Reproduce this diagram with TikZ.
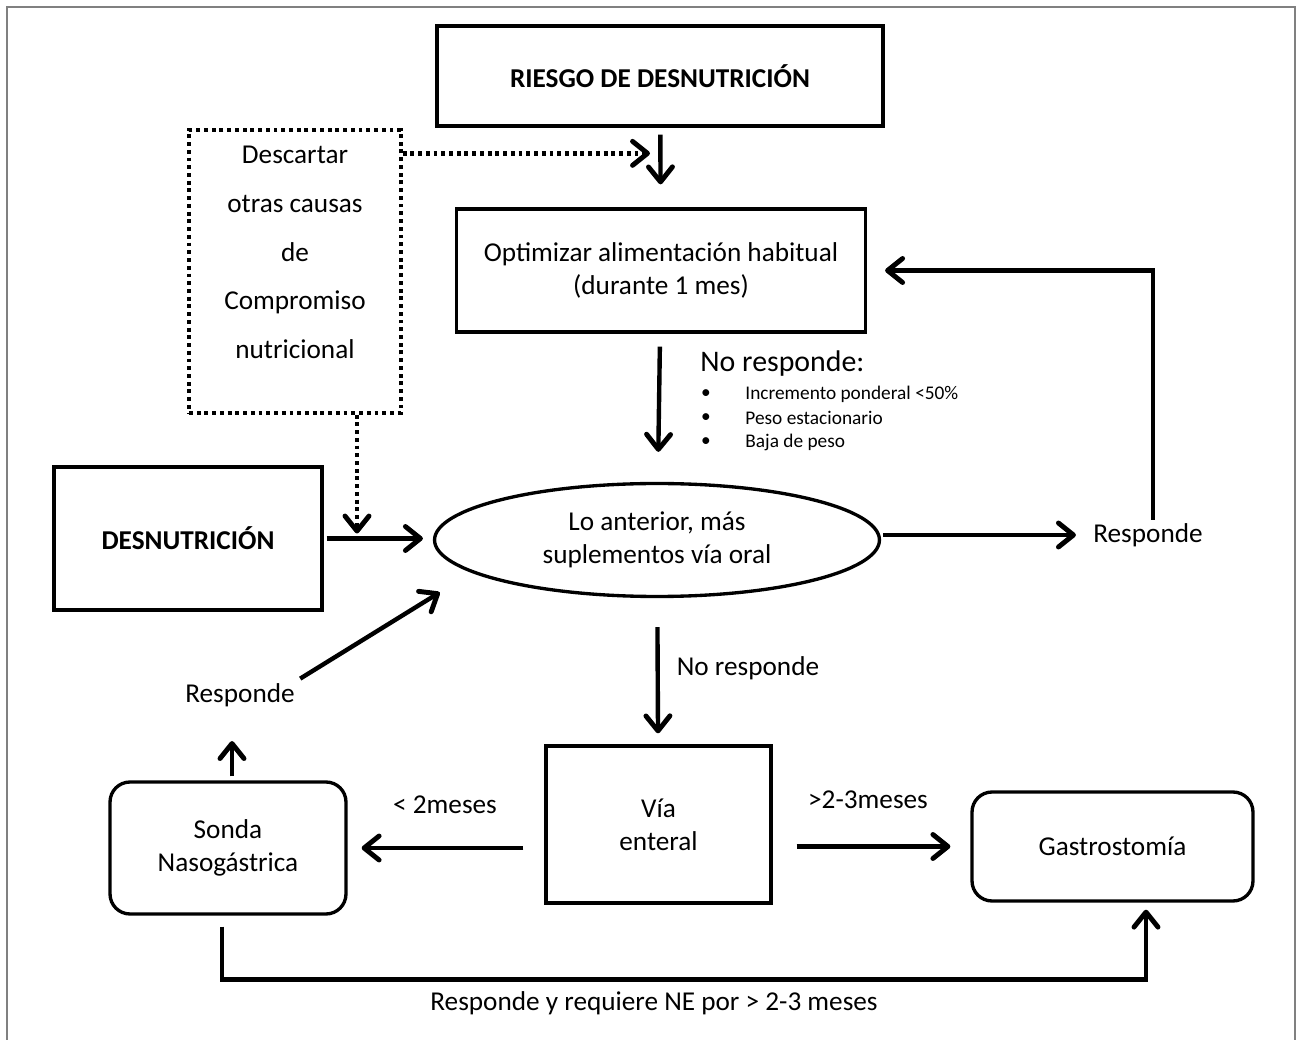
\documentclass[tikz,border=0pt]{standalone}
\usepackage{fontspec}
\setmainfont{Carlito}
\usetikzlibrary{arrows.meta,shapes.geometric}
\newcommand{\mainfnt}{\fontsize{15.5}{18.7}\selectfont}
\newcommand{\bigfnt}{\fontsize{17}{20}\selectfont}
\newcommand{\smallfnt}{\fontsize{11}{13}\selectfont}

\begin{document}
\begin{tikzpicture}[x=0.02cm, y=-0.02cm, line width=1.9pt, >={Straight Barb[length=3mm, width=4.8mm, line width=2.8pt, round]},
    every node/.style={font=\mainfnt},
    box/.style={draw, rectangle, align=center, inner sep=0pt},
    rbox/.style={box, rounded corners=0.4cm},
    lbl/.style={inner sep=1pt},
    arr/.style={->, line width=2.5pt}]
    \useasboundingbox (0,0) rectangle (1296,1040);
    % marco
    \draw[line width=1.1pt, color=gray] (7,1040) -- (7,7) -- (1295,7) -- (1295,1040);

    % cajas
    \node[box, minimum width=8.92cm, minimum height=2cm, font=\mainfnt\bfseries] (riesgo) at (660,76) {RIESGO DE DESNUTRICIÓN};
    \node[box, minimum width=4.24cm, minimum height=5.66cm, dash pattern=on 2.2pt off 2.2pt, font=\fontsize{15.5}{27.8}\selectfont] (dbox) at (295,271.5)
      {Descartar\\otras causas\\de\\Compromiso\\nutricional\\[-6pt]\mbox{}};
    \node[box, minimum width=8.18cm, minimum height=2.46cm] (opt) at (661,270.5) {Optimizar alimentación habitual\\(durante 1 mes)};
    \node[box, ellipse, minimum width=8.9cm, minimum height=2.26cm] (ellipse) at (657,540) {Lo anterior, más\\suplementos vía oral};
    \node[box, minimum width=5.36cm, minimum height=2.86cm, font=\mainfnt\bfseries] (desnut) at (188,538.5) {DESNUTRICIÓN};
    \node[box, minimum width=4.5cm, minimum height=3.14cm] (via) at (658.5,824.5) {Vía\\enteral};
    \node[rbox, minimum width=4.72cm, minimum height=2.64cm] (sonda) at (228,848) {Sonda\\Nasogástrica};
    \node[rbox, minimum width=5.62cm, minimum height=2.18cm] (gastro) at (1112.5,846.5) {Gastrostomía};

    % textos
    \node[lbl, font=\bigfnt, anchor=west] (nores1) at (697,364) {No responde:};
    \foreach \yy/\txt [count=\i] in {394/Incremento ponderal <50\%, 418/Peso estacionario, 442/Baja de peso} {
      \node[lbl, font=\smallfnt] (bul\i) at (706,\yy) {•};
      \node[lbl, font=\smallfnt, anchor=west] (item\i) at (742,\yy) {\txt};
    }
    \node[lbl] (resp1) at (1148,535) {Responde};
    \node[lbl] (resp2) at (240,695) {Responde};
    \node[lbl] (nores2) at (748,668) {No responde};
    \node[lbl] (menos) at (445,805) {< 2meses};
    \node[lbl] (mas) at (868,800) {>2-3meses};
    \node[lbl] (ne) at (654,1003) {Responde y requiere NE por > 2-3 meses};

    % flechas
    \draw[arr, shorten <=0.14cm, shorten >=0.46cm] (riesgo) -- (opt);
    \draw[arr, dash pattern=on 2.2pt off 2.2pt, shorten >=0.2cm] ([yshift=-0.5cm]dbox.north east) -- ([yshift=-0.5cm]dbox.north east -| riesgo.south);
    \draw[arr, dash pattern=on 2.2pt off 2.2pt, shorten >=0.1cm] ([xshift=1.24cm]dbox.south) -- ([xshift=1.24cm]dbox.south |- desnut.east);
    \draw[arr, shorten <=0.26cm, shorten >=0.6cm] (opt) -- (ellipse);
    \draw[arr, shorten <=0.06cm, shorten >=0.2cm] (desnut.east) -- (desnut.east -| ellipse.west);
    \draw[arr, shorten <=0.04cm, shorten >=0.28cm] (ellipse.east |- resp1.west) -- (resp1.west);
    \draw[arr, shorten >=0.36cm] ([xshift=0.1cm]resp1.north) |- (opt.east);
    \draw[arr, shorten <=0.58cm, shorten >=0.22cm] (ellipse) -- (via);
    \draw[arr, shorten <=0.42cm, shorten >=0.28cm] (via.west |- sonda.east) -- (sonda.east);
    \draw[arr, shorten <=0.48cm, shorten >=0.4cm] (via.east |- gastro.west) -- (gastro.west);
    \draw[arr, shorten <=0.08cm, shorten >=0.62cm] ([xshift=0.08cm]sonda.north) -- ([xshift=0.08cm]sonda.north |- resp2.south);
    \draw[arr, shorten <=0.05cm, shorten >=0.75cm] (resp2.north east) -- (ellipse.190);
    \draw[arr, shorten <=0.22cm, shorten >=0.14cm] ([xshift=-0.12cm]sonda.south) -- ++(0,64) -| ([xshift=0.67cm]gastro.south);
\end{tikzpicture}
\end{document}
